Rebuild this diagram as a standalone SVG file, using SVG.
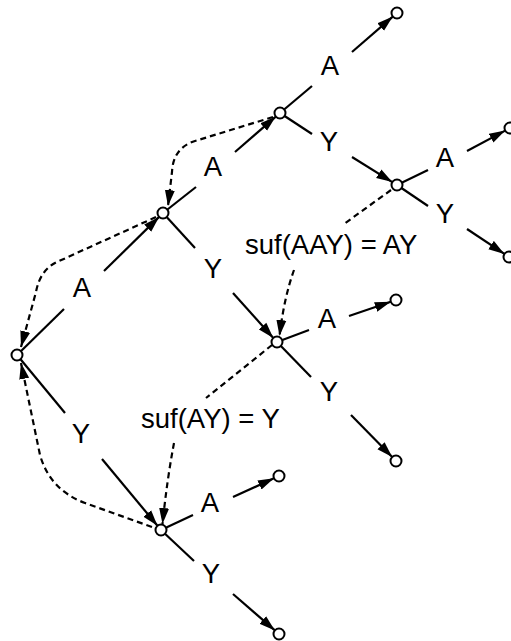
<svg xmlns="http://www.w3.org/2000/svg" width="511" height="641" viewBox="0 0 511 641">
<style>
.e{stroke:#000;stroke-width:2.2;fill:none}
.d{stroke:#000;stroke-width:2.2;fill:none;stroke-dasharray:6,4}
.n{fill:#fff;stroke:#000;stroke-width:2}
.t{font-family:"Liberation Sans",Arial,sans-serif;font-size:27.5px;fill:#000}
.m{text-anchor:middle}
</style>
<defs>
<marker id="ah" markerUnits="userSpaceOnUse" markerWidth="17" markerHeight="11" refX="16" refY="5.5" orient="auto">
<path d="M0,0.5 L16,5.5 L0,10.5 z" fill="#000"/>
</marker>
</defs>
<rect width="511" height="641" fill="#fff"/>
<g id="connectors">
<path class="e" d="M17,355 L64,309"/><path class="e" d="M104,271 L159.1,216.9" marker-end="url(#ah)"/>
<path class="e" d="M163,213 L196,187"/><path class="e" d="M235,152 L275.8,116.6" marker-end="url(#ah)"/>
<path class="e" d="M280,113 L312,86"/><path class="e" d="M352,52 L392.8,16.6" marker-end="url(#ah)"/>
<path class="e" d="M280,113 L312,134"/><path class="e" d="M352,157 L392.3,182.1" marker-end="url(#ah)"/>
<path class="e" d="M397,185 L428,170"/><path class="e" d="M467,151 L505.2,130.6" marker-end="url(#ah)"/>
<path class="e" d="M397,185 L428,206"/><path class="e" d="M467,229 L504.4,253.9" marker-end="url(#ah)"/>
<path class="e" d="M163,213 L195,248"/><path class="e" d="M233,293 L273.3,337.9" marker-end="url(#ah)"/>
<path class="e" d="M277,342 L309,330"/><path class="e" d="M349,316 L390.8,301.8" marker-end="url(#ah)"/>
<path class="e" d="M277,342 L311,377"/><path class="e" d="M351,415 L392.2,457.1" marker-end="url(#ah)"/>
<path class="e" d="M17,355 L65,413"/><path class="e" d="M102,459 L157.5,525.8" marker-end="url(#ah)"/>
<path class="e" d="M161,530 L193,515"/><path class="e" d="M233,497 L274,478.3" marker-end="url(#ah)"/>
<path class="e" d="M161,530 L194,561"/><path class="e" d="M233,594 L274.9,630.4" marker-end="url(#ah)"/>
<path class="d" d="M273,117 L195,141 Q173,148 172,172 L168,206" marker-end="url(#ah)"/>
<path class="d" d="M156,217 L57,262 Q40,270 36,292 L21,347" marker-end="url(#ah)"/>
<path class="d" d="M152,527 L85,503 Q50,490 40,455 L21,363" marker-end="url(#ah)"/>
<path class="d" d="M391,190 L344,224"/>
<path class="d" d="M294,270 Q284,298 279.5,336" marker-end="url(#ah)"/>
<path class="d" d="M272,345 L206,398"/>
<path class="d" d="M174,443 Q167,480 162.5,524" marker-end="url(#ah)"/>
</g>
<g id="labels">
<text class="t m" x="82" y="297">A</text>
<text class="t m" x="213" y="176">A</text>
<text class="t m" x="330" y="75">A</text>
<text class="t m" x="329" y="151">Y</text>
<text class="t m" x="445" y="167">A</text>
<text class="t m" x="445" y="223">Y</text>
<text class="t m" x="213" y="278">Y</text>
<text class="t m" x="327" y="328">A</text>
<text class="t m" x="329" y="401">Y</text>
<text class="t m" x="81" y="443">Y</text>
<text class="t m" x="210" y="512">A</text>
<text class="t m" x="211" y="583">Y</text>
<text class="t" x="245" y="254">suf(AAY) = AY</text>
<text class="t" x="141" y="428">suf(AY) = Y</text>
</g>
<g id="root"><circle class="n" cx="17" cy="355" r="5.5"/></g>
<g id="node-A"><circle class="n" cx="163" cy="213" r="5.5"/></g>
<g id="node-AA"><circle class="n" cx="280" cy="113" r="5.5"/></g>
<g id="node-AAA"><circle class="n" cx="397" cy="13" r="5.5"/></g>
<g id="node-AAY"><circle class="n" cx="397" cy="185" r="5.5"/></g>
<g id="node-AAYA"><circle class="n" cx="510" cy="128" r="5.5"/></g>
<g id="node-AAYY"><circle class="n" cx="509" cy="257" r="5.5"/></g>
<g id="node-AY"><circle class="n" cx="277" cy="342" r="5.5"/></g>
<g id="node-AYA"><circle class="n" cx="396" cy="300" r="5.5"/></g>
<g id="node-AYY"><circle class="n" cx="396" cy="461" r="5.5"/></g>
<g id="node-Y"><circle class="n" cx="161" cy="530" r="5.5"/></g>
<g id="node-YA"><circle class="n" cx="279" cy="476" r="5.5"/></g>
<g id="node-YY"><circle class="n" cx="279" cy="634" r="5.5"/></g>
</svg>
